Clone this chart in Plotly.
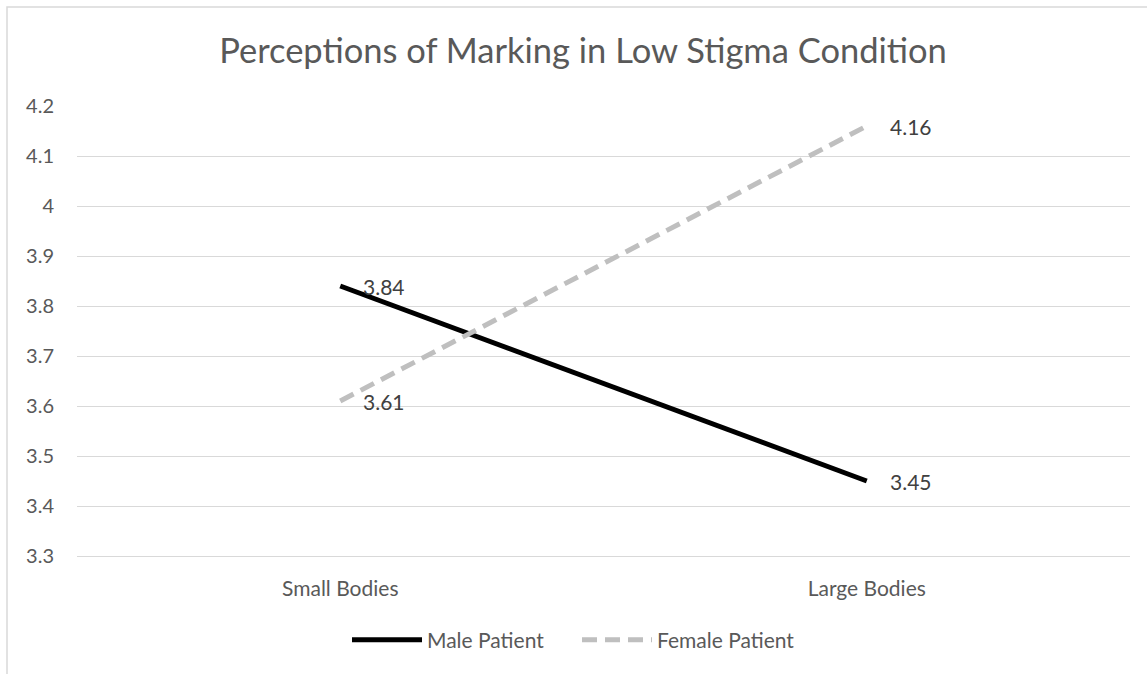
import plotly.graph_objects as go

title = "Perceptions of Marking in Low Stigma Condition"
categories = ["Small Bodies", "Large Bodies"]
male = [3.84, 3.45]
female = [3.61, 4.16]
y_ticks = [3.3, 3.4, 3.5, 3.6, 3.7, 3.8, 3.9, 4.0, 4.1, 4.2]
y_tick_labels = ["3.3", "3.4", "3.5", "3.6", "3.7", "3.8", "3.9", "4", "4.1", "4.2"]

W, H = 1147, 674
L, R, T, B = 77, 17, 106, 118
FONT = "Lato, 'Open Sans', sans-serif"

fig = go.Figure()
fig.add_trace(go.Scatter(x=categories, y=male, mode="lines", name="Male Patient",
                         line=dict(color="#000000", width=5)))
fig.add_trace(go.Scatter(x=categories, y=female, mode="lines", name="Female Patient",
                         line=dict(color="#BFBFBF", width=5, dash="15px,8px")))

annotations = []
for series in (male, female):
    for c, v in zip(categories, series):
        annotations.append(dict(x=c, y=v, xref="x", yref="y", text=f"{v:.2f}",
                                showarrow=False, xanchor="left", yanchor="middle",
                                xshift=21, font=dict(family=FONT, size=21, color="#404040")))

pw = W - L - R
ph = H - T - B
fig.update_layout(
    width=W, height=H,
    margin=dict(l=L, r=R, t=T, b=B),
    paper_bgcolor="white", plot_bgcolor="white",
    title=dict(text=title, x=583 / W, xanchor="center", xref="container",
               y=1 - 51 / H, yanchor="middle", yref="container",
               font=dict(family=FONT, size=34.5, color="#595959")),
    font=dict(family=FONT, color="#595959"),
    annotations=annotations,
    showlegend=True,
    legend=dict(orientation="h", x=(347 - L) / pw, xanchor="left",
                y=-(640 - (T + ph)) / ph, yanchor="middle",
                font=dict(family=FONT, size=21, color="#595959"),
                itemwidth=70, entrywidth=145, entrywidthmode="pixels",
                traceorder="normal", bgcolor="rgba(0,0,0,0)"),
    xaxis=dict(type="category", range=[-0.5, 1.5], showgrid=False, showline=True,
               linecolor="#D9D9D9", linewidth=1, ticks="outside", ticklen=14,
               tickcolor="rgba(0,0,0,0)", tickfont=dict(family=FONT, size=21, color="#595959"),
               zeroline=False, fixedrange=True),
    yaxis=dict(range=[3.3, 4.2], tickvals=y_ticks, ticktext=y_tick_labels,
               showgrid=True, gridcolor="#D9D9D9", gridwidth=1, showline=False,
               zeroline=False, ticks="outside", ticklen=18, tickcolor="rgba(0,0,0,0)",
               tickfont=dict(family=FONT, size=20, color="#595959"), fixedrange=True),
    shapes=[dict(type="rect", xref="paper", yref="paper",
                 x0=(7 - L) / pw, x1=(W + 20 - L) / pw,
                 y0=-(H + 20 - T - ph) / ph, y1=1 + (T - 7) / ph,
                 line=dict(color="#D9D9D9", width=1.5), fillcolor="rgba(0,0,0,0)", layer="below")],
)

fig.write_html("out.html", config={"displayModeBar": False})
with open("out.html", "r", encoding="utf-8") as f:
    html = f.read()
html = html.replace("<head>", "<head><style>html,body{margin:0;padding:0;overflow:hidden;}</style>", 1)
with open("out.html", "w", encoding="utf-8") as f:
    f.write(html)
